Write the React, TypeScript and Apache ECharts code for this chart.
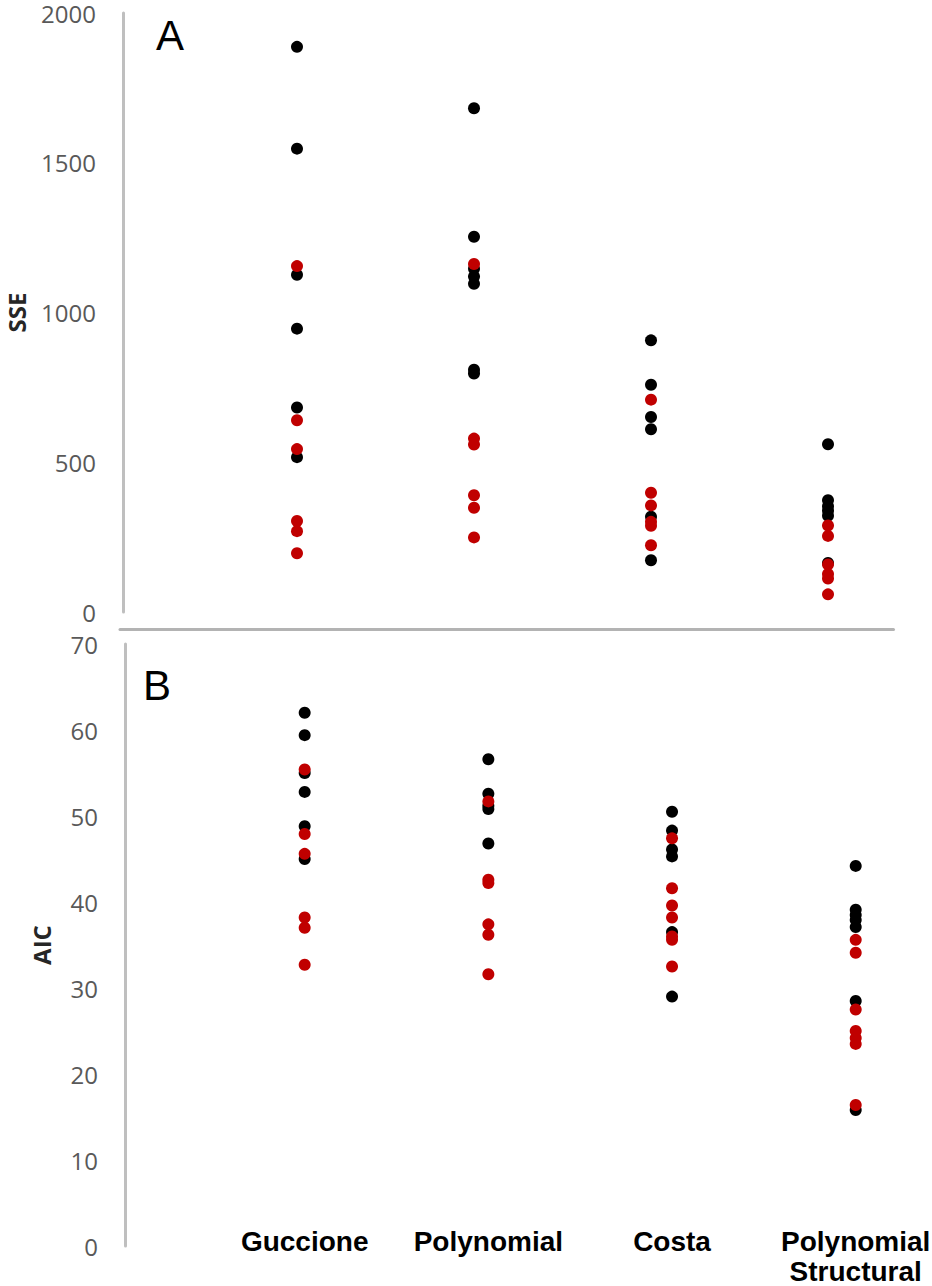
import React, { useEffect, useRef } from "react";
import * as echarts from "echarts";

const categories = ["Guccione", "Polynomial", "Costa", "Polynomial\nStructural"];

// Panel A: SSE
const gucBlackA = [1887, 1547, 1126, 946, 683, 517];
const gucRedA = [1155, 640, 544, 304, 270, 196];
const polyBlackA = [1682, 1253, 1146, 1120, 1096, 809, 796];
const polyRedA = [1162, 579, 559, 390, 348, 249];
const costaBlackA = [907, 759, 651, 610, 318, 173];
const costaRedA = [709, 398, 356, 301, 288, 223];
const psBlackA = [560, 373, 353, 338, 321, 164];
const psRedA = [289, 254, 159, 127, 112, 59];

// Panel B: AIC
const gucBlackB = [62.0, 59.4, 55.0, 52.8, 48.8, 45.0];
const gucRedB = [55.4, 47.9, 45.6, 38.2, 37.0, 32.7];
const polyBlackB = [56.6, 52.6, 51.2, 50.8, 46.8];
const polyRedB = [51.7, 42.6, 42.2, 37.4, 36.2, 31.6];
const costaBlackB = [50.5, 48.3, 46.1, 45.3, 36.5, 29.0];
const costaRedB = [47.4, 41.6, 39.6, 38.2, 36.0, 35.6, 32.5];
const psBlackB = [44.2, 39.1, 38.5, 37.9, 37.1, 28.5, 15.8];
const psRedB = [35.6, 34.1, 27.5, 25.0, 24.2, 23.5, 16.4];

const BLACK = "#000000";
const RED = "#C00000";
const AXIS_GRAY = "#BFBFBF";
const TICK_GRAY = "#595959";

function toPoints(groups: number[][]) {
  const pts: number[][] = [];
  groups.forEach((g, i) => g.forEach((v) => pts.push([i + 1, v])));
  return pts;
}

export default function App() {
  const ref = useRef<HTMLDivElement>(null);
  useEffect(() => {
    if (!ref.current) return;
    const chart = echarts.init(ref.current, null, { renderer: "svg" });
    const tickLabel = {
      fontFamily: "Open Sans",
      fontSize: 24,
      lineHeight: 22,
      color: TICK_GRAY,
      formatter: (v: number) => String(v),
    };
    const nameStyle = {
      fontFamily: "Open Sans",
      fontWeight: "bold",
      fontSize: 24,
      lineHeight: 22,
      color: "#262626",
    };
    const option: any = {
      animation: false,
      backgroundColor: "#ffffff",
      grid: [
        { left: 120, right: 38.5, top: 13, bottom: 674, outerBoundsMode: "none", containLabel: false },
        { left: 121, right: 12, top: 644, bottom: 40, outerBoundsMode: "none", containLabel: false },
      ],
      xAxis: [
        {
          gridIndex: 0,
          type: "value",
          min: 0,
          max: 4.37,
          interval: 1,
          offset: 17,
          axisLine: { show: true, onZero: false, lineStyle: { color: "#B3B3B3", width: 3 } },
          axisTick: { show: false },
          axisLabel: { show: false },
          splitLine: { show: false },
        },
        {
          gridIndex: 1,
          type: "value",
          min: 0,
          max: 4.35,
          interval: 1,
          axisLine: { show: false },
          axisTick: { show: false },
          splitLine: { show: false },
          axisLabel: {
            show: true,
            margin: -20,
            verticalAlign: "top",
            fontFamily: "Liberation Sans",
            fontWeight: "bold",
            fontSize: 28,
            lineHeight: 30,
            color: "#000000",
            formatter: (v: number) => {
              const i = Math.round(v);
              if (Math.abs(v - i) > 1e-6) return "";
              return categories[i - 1] || "";
            },
          },
        },
      ],
      yAxis: [
        {
          gridIndex: 0,
          type: "value",
          min: 0,
          max: 2000,
          interval: 500,
          offset: -3,
          name: "SSE",
          nameLocation: "middle",
          nameRotate: 90,
          nameGap: 96,
          nameTextStyle: nameStyle,
          axisLine: { show: true, onZero: false, lineStyle: { color: AXIS_GRAY, width: 3 } },
          axisTick: { show: false },
          splitLine: { show: false },
          axisLabel: { ...tickLabel, margin: 27 },
        },
        {
          gridIndex: 1,
          type: "value",
          min: 0,
          max: 70,
          interval: 10,
          offset: -4,
          name: "AIC",
          nameLocation: "middle",
          nameRotate: 90,
          nameGap: 73,
          nameTextStyle: nameStyle,
          axisLine: { show: true, onZero: false, lineStyle: { color: AXIS_GRAY, width: 3 } },
          axisTick: { show: false },
          splitLine: { show: false },
          axisLabel: { ...tickLabel, margin: 27 },
        },
      ],
      series: [
        {
          type: "scatter",
          xAxisIndex: 0,
          yAxisIndex: 0,
          symbolSize: 12,
          itemStyle: { color: BLACK, opacity: 1 },
          data: toPoints([gucBlackA, polyBlackA, costaBlackA, psBlackA]),
        },
        {
          type: "scatter",
          xAxisIndex: 0,
          yAxisIndex: 0,
          symbolSize: 12,
          itemStyle: { color: RED, opacity: 1 },
          data: toPoints([gucRedA, polyRedA, costaRedA, psRedA]),
        },
        {
          type: "scatter",
          xAxisIndex: 1,
          yAxisIndex: 1,
          symbolSize: 12,
          itemStyle: { color: BLACK, opacity: 1 },
          data: toPoints([gucBlackB, polyBlackB, costaBlackB, psBlackB]),
        },
        {
          type: "scatter",
          xAxisIndex: 1,
          yAxisIndex: 1,
          symbolSize: 12,
          itemStyle: { color: RED, opacity: 1 },
          data: toPoints([gucRedB, polyRedB, costaRedB, psRedB]),
        },
      ],
      graphic: [
        {
          type: "text",
          left: 156,
          top: 14,
          style: {
            text: "A",
            font: "42px 'Liberation Sans'",
            fill: "#000000",
          },
        },
        {
          type: "text",
          left: 143,
          top: 664,
          style: {
            text: "B",
            font: "42px 'Liberation Sans'",
            fill: "#000000",
          },
        },
      ],
    };
    chart.setOption(option);
    return () => chart.dispose();
  }, []);
  return (
    <div
      ref={ref}
      style={{ position: "absolute", left: 0, top: 0, width: 932, height: 1286 }}
    />
  );
}
